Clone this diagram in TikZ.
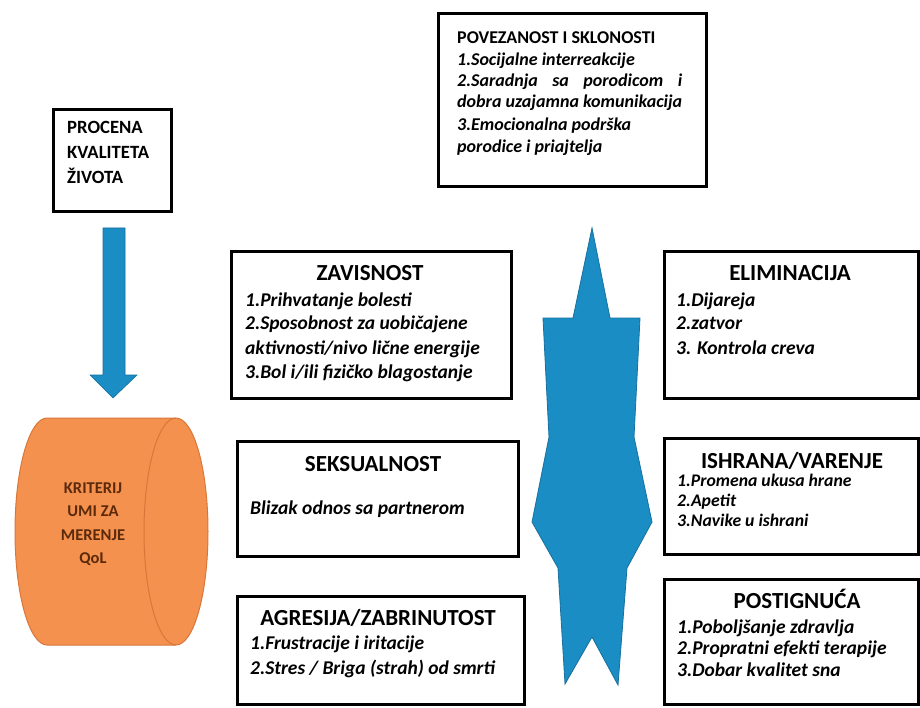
\documentclass[tikz,border=0pt]{standalone}
\usepackage{fontspec}
\setmainfont{Carlito}
\definecolor{bblue}{HTML}{1A8DC5}
\definecolor{bblueD}{HTML}{17709E}
\definecolor{orfill}{HTML}{F4914E}
\definecolor{ordraw}{HTML}{D9773A}
\definecolor{ortext}{HTML}{5C2A0A}
\tikzset{
  box/.style={draw=black, line width=2.6pt, fill=white, anchor=north west, inner sep=0pt},
  ttl/.style={font=\bfseries\fontsize{23}{27}\selectfont, anchor=base, inner sep=0pt},
  itm/.style={font=\bfseries\itshape\fontsize{19.5}{23}\selectfont, anchor=base west, inner sep=0pt},
  itms/.style={font=\bfseries\itshape\fontsize{17.7}{21}\selectfont, anchor=base west, inner sep=0pt},
  itmm/.style={font=\bfseries\itshape\fontsize{18}{21}\selectfont, anchor=base west, inner sep=0pt},
  capl/.style={font=\bfseries\fontsize{18.7}{22}\selectfont, anchor=base west, inner sep=0pt},
  cyl/.style={font=\bfseries\fontsize{16.5}{20}\selectfont, anchor=base, inner sep=0pt, text=ortext},
}
\begin{document}
\begin{tikzpicture}[x=1pt,y=-1pt]
\useasboundingbox (0,0) rectangle (920,708);
\fill[white] (0,0) rectangle (920,708);

% boxes
\node[box, minimum width=268pt, minimum height=173pt] (pov) at (437,12) {};
\node[box, minimum width=118pt, minimum height=102pt] (pro) at (52,108) {};
\node[box, minimum width=280pt, minimum height=147pt] (zav) at (230,250) {};
\node[box, minimum width=281pt, minimum height=115pt] (sek) at (236,440) {};
\node[box, minimum width=287pt, minimum height=108pt] (agr) at (236,595) {};
\node[box, minimum width=254pt, minimum height=147pt] (eli) at (663,250) {};
\node[box, minimum width=254pt, minimum height=116pt] (ish) at (663,437) {};
\node[box, minimum width=254pt, minimum height=125pt] (pos) at (663,578) {};

% POVEZANOST
\node[font=\bfseries\fontsize{18}{21}\selectfont, anchor=base west, inner sep=0pt] (povT) at (457,44) {POVEZANOST I SKLONOSTI};
\node[itmm] (pov1) at (457,65.5) {1.Socijalne interreakcije};
\node[itmm] (pov2) at (457,86.5) {\makebox[225pt][s]{2.Saradnja sa porodicom i}};
\node[itmm] (pov3) at (457,107.5) {dobra uzajamna komunikacija};
\node[itmm] (pov4) at (457,130.5) {3.Emocionalna podrška};
\node[itmm] (pov5) at (457,152.5) {porodice i priajtelja};

% PROCENA
\node[capl] (pro1) at (67,134) {PROCENA};
\node[capl] (pro2) at (67,159) {KVALITETA};
\node[capl] (pro3) at (67,184) {ŽIVOTA};

% ZAVISNOST
\node[ttl] (zavT) at (370,281) {ZAVISNOST};
\node[itm] (zav1) at (245,306) {1.Prihvatanje bolesti};
\node[itm] (zav2) at (245,330) {2.Sposobnost za uobičajene};
\node[itm] (zav3) at (245,354) {aktivnosti/nivo lične energije};
\node[itm] (zav4) at (245,378.5) {3.Bol i/ili fizičko blagostanje};

% SEKSUALNOST
\node[ttl] (sekT) at (373,471) {SEKSUALNOST};
\node[itm] (sek1) at (250,514.5) {Blizak odnos sa partnerom};

% AGRESIJA
\node[ttl] (agrT) at (378,625) {AGRESIJA/ZABRINUTOST};
\node[itm] (agr1) at (250,649.5) {1.Frustracije i iritacije};
\node[itm] (agr2) at (250,674.5) {2.Stres / Briga (strah) od smrti};

% ELIMINACIJA
\node[ttl] (eliT) at (790,281) {ELIMINACIJA};
\node[itm] (eli1) at (676,306.5) {1.Dijareja};
\node[itm] (eli2) at (676,330) {2.zatvor};
\node[itm] (eli3) at (676,354) {3. Kontrola creva};

% ISHRANA
\node[ttl] (ishT) at (792,468) {ISHRANA/VARENJE};
\node[itms] (ish1) at (677,486) {1.Promena ukusa hrane};
\node[itms] (ish2) at (677,506) {2.Apetit};
\node[itms] (ish3) at (677,526) {3.Navike u ishrani};

% POSTIGNUCA
\node[ttl] (posT) at (797,608) {POSTIGNUĆA};
\node[itm] (pos1) at (677,633) {1.Poboljšanje zdravlja};
\node[itm] (pos2) at (677,654.5) {2.Propratni efekti terapije};
\node[itm] (pos3) at (677,676.5) {3.Dobar kvalitet sna};

% blue down arrow
\filldraw[fill=bblue, draw=bblueD, line width=0.6pt]
  (103,228) -- (125,228) -- (125,375) -- (137,375) -- (113,398) -- (90,375) -- (103,375) -- cycle;

% central blue shape
\filldraw[fill=bblue, draw=bblueD, line width=0.8pt, line join=miter]
  (592,228) -- (610,318) -- (640,318) -- (634,437) -- (652,522) -- (627,568)
  -- (618,685) -- (592,637) -- (565,684) -- (558,568) -- (532,522)
  -- (549,437) -- (543,318) -- (573,318) -- cycle;

% cylinder
\filldraw[fill=orfill, draw=ordraw, line width=1pt]
  (47,418) -- (176,418) arc[start angle=90, end angle=-90, x radius=32pt, y radius=113.5pt]
  -- (47,645) arc[start angle=-90, end angle=-270, x radius=32pt, y radius=113.5pt] -- cycle;
\draw[draw=ordraw, line width=1pt]
  (176,418) arc[start angle=90, end angle=270, x radius=32pt, y radius=113.5pt];
\node[cyl] (cy1) at (93,493) {KRITERIJ};
\node[cyl] (cy2) at (93,516) {UMI ZA};
\node[cyl] (cy3) at (93,540) {MERENJE};
\node[cyl] (cy4) at (93,563) {QoL};
\end{tikzpicture}
\end{document}
